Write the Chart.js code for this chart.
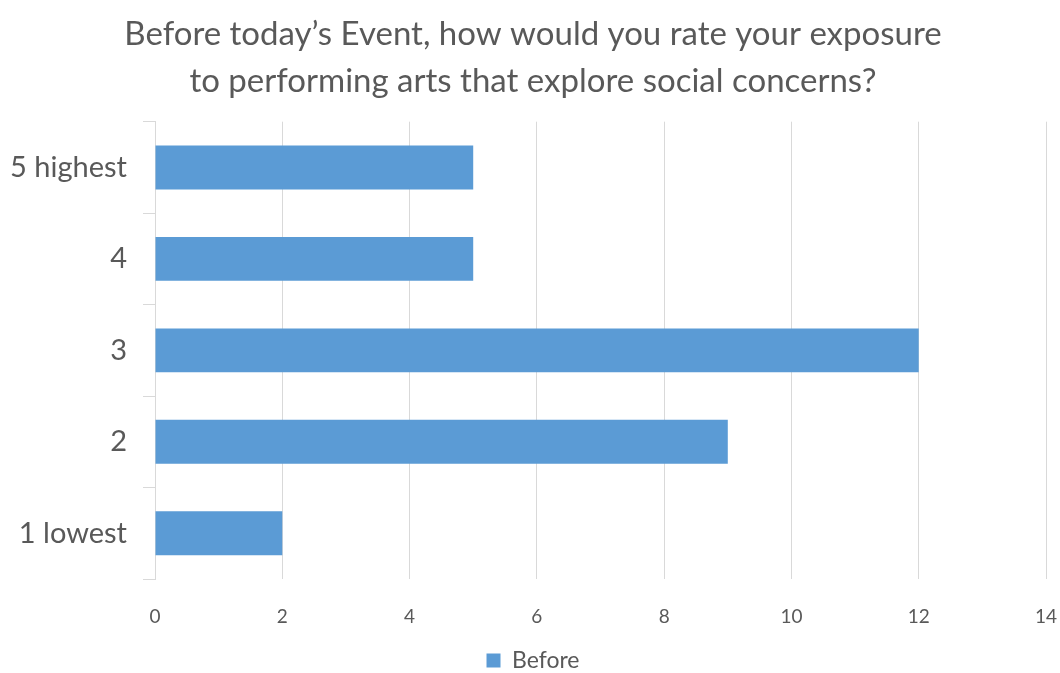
<!DOCTYPE html>
<html>
<head>
<meta charset="utf-8">
<script src="https://cdn.jsdelivr.net/npm/chart.js@4"></script>
<style>
  html, body { margin: 0; padding: 0; background: #ffffff; }
  canvas { display: block; }
</style>
</head>
<body>
<canvas id="ratingChart" width="1060" height="673"></canvas>
<script>
// chart data
const ratingLabels = ['5 highest', '4', '3', '2', '1 lowest'];
const beforeCounts = [5, 5, 12, 9, 2];
const xTickMax = 14;
const xTickStep = 2;

const titleLines = [
  'Before today\u2019s Event, how would you rate your exposure',
  'to performing arts that explore social concerns?'
];

const textGrey = '#595959';
const lineGrey = '#d9d9d9';
const fontName = 'Lato, "Open Sans", sans-serif';

const ctx = document.getElementById('ratingChart').getContext('2d');
new Chart(ctx, {
  type: 'bar',
  data: {
    labels: ratingLabels,
    datasets: [{
      label: 'Before',
      data: beforeCounts,
      backgroundColor: '#5b9bd5',
      borderWidth: 0,
      categoryPercentage: 1,
      barPercentage: 0.48
    }]
  },
  options: {
    indexAxis: 'y',
    responsive: false,
    animation: false,
    layout: { padding: { top: 10, right: 0, left: 6, bottom: -9 } },
    plugins: {
      title: {
        display: true,
        text: titleLines,
        color: textGrey,
        font: { family: fontName, size: 33, weight: 'normal', lineHeight: 1.45 },
        padding: { top: 0, bottom: 16 }
      },
      legend: {
        position: 'bottom',
        labels: {
          color: textGrey,
          font: { family: fontName, size: 23 },
          boxWidth: 14,
          boxHeight: 14,
          padding: 0
        }
      },
      tooltip: { enabled: false }
    },
    scales: {
      x: {
        min: 0,
        max: xTickMax,
        afterFit: function (scale) {
          scale.height = 70;
          scale.paddingRight = 14;
        },
        ticks: {
          stepSize: xTickStep,
          color: textGrey,
          font: { family: fontName, size: 19 },
          padding: 26
        },
        grid: { color: lineGrey, drawTicks: false },
        border: { display: false }
      },
      y: {
        afterFit: function (scale) { scale.width = 149; },
        ticks: {
          color: textGrey,
          font: { family: fontName, size: 29 },
          padding: 16
        },
        grid: {
          drawOnChartArea: false,
          drawTicks: true,
          tickLength: 12,
          color: lineGrey
        },
        border: { display: true, color: lineGrey }
      }
    }
  }
});
</script>
</body>
</html>
